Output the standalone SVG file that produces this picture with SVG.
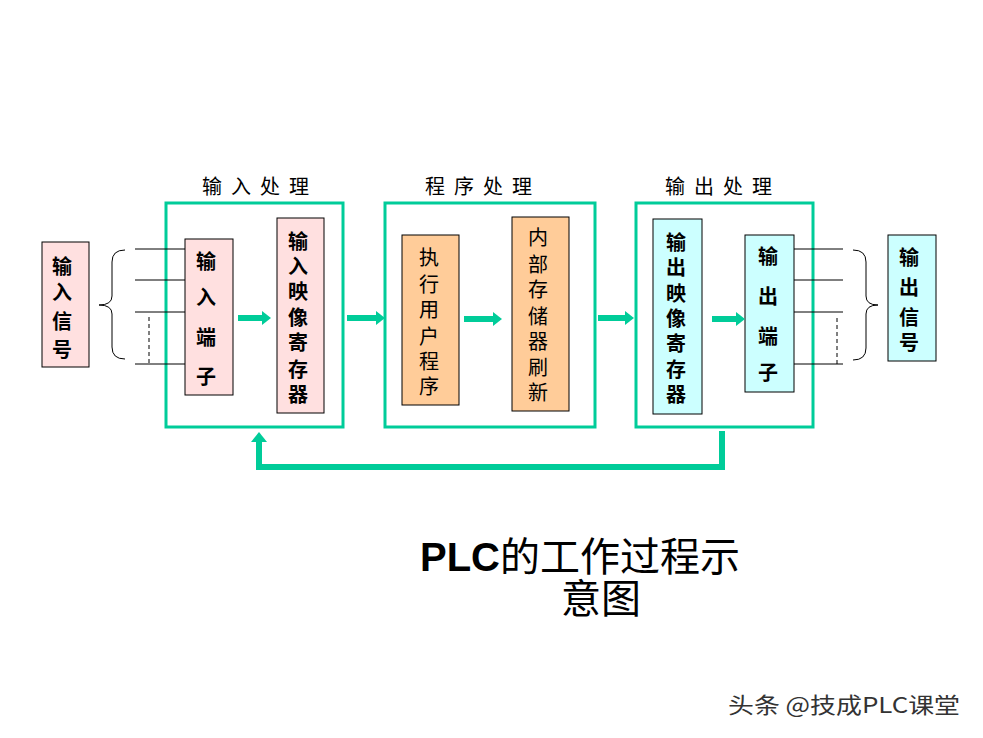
<svg xmlns="http://www.w3.org/2000/svg" width="983" height="738" viewBox="0 0 983 738">
<style>
.bg{fill:#FFFFFF}
.stage{fill:none;stroke:#00CC99;stroke-width:3}
.node{stroke:#000;stroke-width:1}
.pink{fill:#FFE0E0}
.orange{fill:#FFCC99}
.cyan{fill:#CCFFFF}
.t{font-family:"Liberation Sans","Noto Sans CJK SC",sans-serif;font-size:20px;fill:#000;text-anchor:middle}
.b{font-weight:bold}
.title{font-family:"Liberation Sans","Noto Sans CJK SC",sans-serif;font-size:20px;fill:#000;letter-spacing:9px}
.wire{stroke:#000;stroke-width:1;fill:none}
.dash{stroke:#000;stroke-width:1;stroke-dasharray:4,3;fill:none}
.flow{stroke:#00CC99;stroke-width:6;fill:none}
.head{fill:#00CC99}
.cap{font-family:"Liberation Sans","Noto Sans CJK SC",sans-serif;font-size:40px;fill:#000}
</style>
<defs>
<marker id="ah" markerUnits="userSpaceOnUse" markerWidth="10" markerHeight="14" refX="0" refY="7" orient="auto">
<path d="M0,0 L9,7 L0,14 z" fill="#00CC99"/>
</marker>
</defs>
<rect class="bg" x="0" y="0" width="983" height="738"/>

<g id="stage-input">
<rect class="stage" x="166" y="203" width="177" height="224"/>
<text class="title" x="202" y="194">输入处理</text>
</g>
<g id="stage-program">
<rect class="stage" x="385" y="203" width="210" height="224"/>
<text class="title" x="425" y="194">程序处理</text>
</g>
<g id="stage-output">
<rect class="stage" x="636" y="203" width="177" height="224"/>
<text class="title" x="665" y="194">输出处理</text>
</g>

<g id="input-signal">
<rect class="node pink" x="42" y="242" width="47" height="125"/>
<text class="t b"><tspan x="62" y="274">输</tspan><tspan x="62" y="300">入</tspan><tspan x="62" y="329">信</tspan><tspan x="62" y="357">号</tspan></text>
</g>
<g id="input-terminal">
<rect class="node pink" x="185" y="239" width="48" height="156"/>
<text class="t b"><tspan x="206" y="269">输</tspan><tspan x="206" y="305">入</tspan><tspan x="206" y="345">端</tspan><tspan x="206" y="384">子</tspan></text>
</g>
<g id="input-image-register">
<rect class="node pink" x="277" y="218" width="47" height="195"/>
<text class="t b"><tspan x="298" y="249">输</tspan><tspan x="298" y="274">入</tspan><tspan x="298" y="299">映</tspan><tspan x="298" y="325">像</tspan><tspan x="298" y="350">寄</tspan><tspan x="298" y="377">存</tspan><tspan x="298" y="402">器</tspan></text>
</g>
<g id="execute-program">
<rect class="node orange" x="402" y="235" width="57" height="170"/>
<text class="t"><tspan x="429" y="265">执</tspan><tspan x="429" y="292">行</tspan><tspan x="429" y="317">用</tspan><tspan x="429" y="344">户</tspan><tspan x="429" y="369">程</tspan><tspan x="429" y="394">序</tspan></text>
</g>
<g id="memory-refresh">
<rect class="node orange" x="512" y="217" width="57" height="194"/>
<text class="t"><tspan x="538" y="245">内</tspan><tspan x="538" y="272">部</tspan><tspan x="538" y="297">存</tspan><tspan x="538" y="324">储</tspan><tspan x="538" y="349">器</tspan><tspan x="538" y="375">刷</tspan><tspan x="538" y="400">新</tspan></text>
</g>
<g id="output-image-register">
<rect class="node cyan" x="653" y="219" width="49" height="195"/>
<text class="t b"><tspan x="676" y="250">输</tspan><tspan x="676" y="275">出</tspan><tspan x="676" y="301">映</tspan><tspan x="676" y="326">像</tspan><tspan x="676" y="351">寄</tspan><tspan x="676" y="377">存</tspan><tspan x="676" y="402">器</tspan></text>
</g>
<g id="output-terminal">
<rect class="node cyan" x="745" y="235" width="49" height="157"/>
<text class="t b"><tspan x="768" y="264">输</tspan><tspan x="768" y="304">出</tspan><tspan x="768" y="344">端</tspan><tspan x="768" y="380">子</tspan></text>
</g>
<g id="output-signal">
<rect class="node cyan" x="888" y="235" width="48" height="126"/>
<text class="t b"><tspan x="909" y="265">输</tspan><tspan x="909" y="295">出</tspan><tspan x="909" y="325">信</tspan><tspan x="909" y="350">号</tspan></text>
</g>

<g id="connectors">
<path class="wire" d="M125,250 Q112,250 112,262 L112,296 Q112,305 99,305 Q112,305 112,314 L112,347 Q112,359 125,359"/>
<line class="wire" x1="135" y1="249" x2="185" y2="249"/>
<line class="wire" x1="135" y1="280" x2="185" y2="280"/>
<line class="wire" x1="135" y1="312" x2="185" y2="312"/>
<line class="wire" x1="135" y1="364" x2="185" y2="364"/>
<line class="dash" x1="149" y1="317" x2="149" y2="364"/>

<line class="wire" x1="794" y1="249" x2="843" y2="249"/>
<line class="wire" x1="794" y1="280" x2="843" y2="280"/>
<line class="wire" x1="794" y1="312" x2="843" y2="312"/>
<line class="wire" x1="794" y1="364" x2="843" y2="364"/>
<line class="dash" x1="837" y1="318" x2="837" y2="364"/>
<path class="wire" d="M853,250 Q866,250 866,262 L866,296 Q866,305 878,305 Q866,305 866,314 L866,348 Q866,360 853,360"/>

<line class="flow" x1="238" y1="318" x2="262" y2="318" marker-end="url(#ah)"/>
<line class="flow" x1="347" y1="318" x2="376" y2="318" marker-end="url(#ah)"/>
<line class="flow" x1="464" y1="319" x2="493" y2="319" marker-end="url(#ah)"/>
<line class="flow" x1="598" y1="318" x2="625" y2="318" marker-end="url(#ah)"/>
<line class="flow" x1="712" y1="319" x2="736" y2="319" marker-end="url(#ah)"/>

<polyline class="flow" points="722,431 722,467 259,467 259,441"/>
<polygon class="head" points="251,442 259,432 267,442"/>
</g>

<g id="caption">
<text class="cap" x="420" y="571"><tspan font-weight="bold">PLC</tspan><tspan>的工作过程示</tspan></text>
<text class="cap" x="561" y="613">意图</text>
</g>

<text x="728" y="713" font-size="22" fill="#333333" textLength="232" lengthAdjust="spacingAndGlyphs" font-family="Noto Sans CJK SC, Liberation Sans, sans-serif">头条 @技成PLC课堂</text>
</svg>
